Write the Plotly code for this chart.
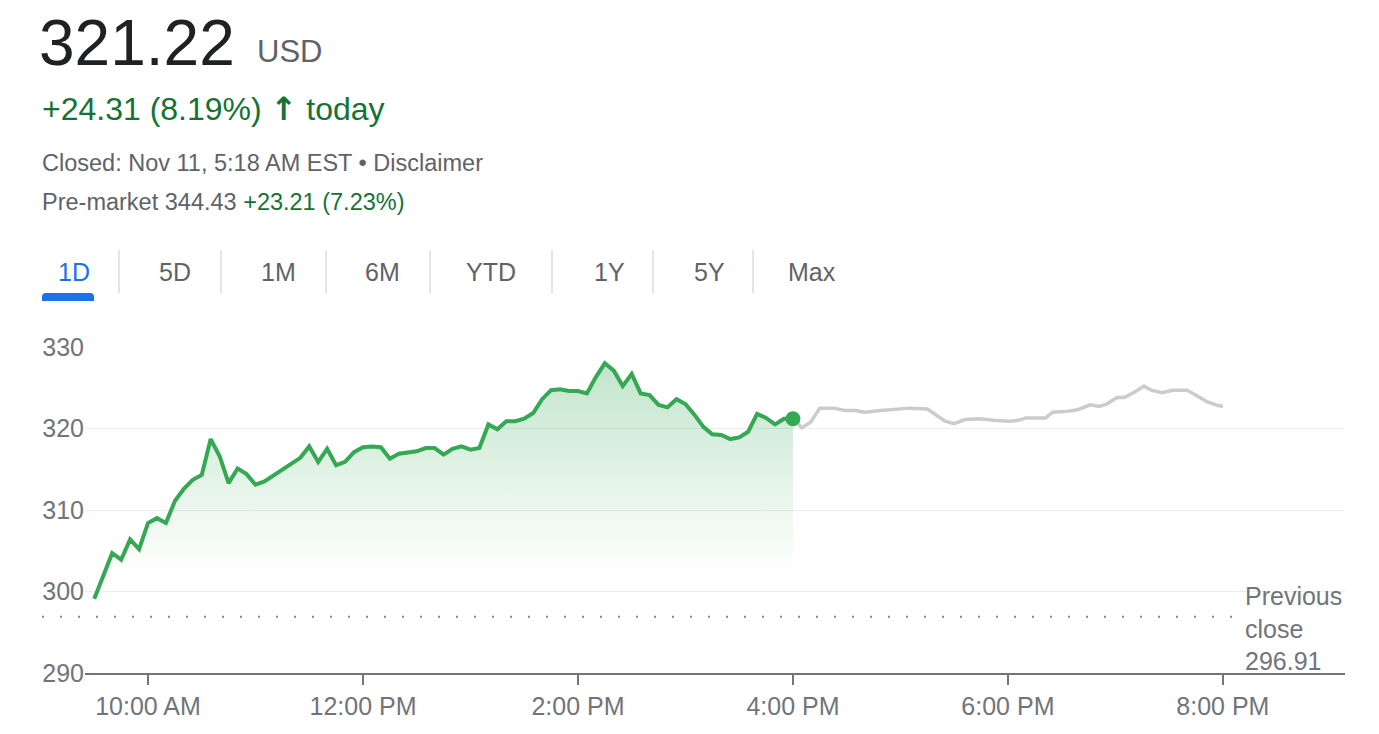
import plotly.graph_objects as go

# page body has an 8px margin, so the figure is a bit smaller and shifted
OFF = 8
W, H = 1379 - 2 * OFF, 734 - 2 * OFF

# regular session (green) and after hours (gray)
day = "2024-11-08"
session_times = ["09:30", "09:40", "09:45", "09:50", "09:55", "10:00", "10:05", "10:10", "10:15", "10:20",
                 "10:25", "10:30", "10:35", "10:40", "10:45", "10:50", "10:55", "11:00", "11:05", "11:10",
                 "11:15", "11:20", "11:25", "11:30", "11:35", "11:40", "11:45", "11:50", "11:55", "12:00",
                 "12:05", "12:10", "12:15", "12:20", "12:25", "12:30", "12:35", "12:40", "12:45", "12:50",
                 "12:55", "13:00", "13:05", "13:10", "13:15", "13:20", "13:25", "13:30", "13:35", "13:40",
                 "13:45", "13:50", "13:55", "14:00", "14:05", "14:10", "14:15", "14:20", "14:25", "14:30",
                 "14:35", "14:40", "14:45", "14:50", "14:55", "15:00", "15:05", "15:10", "15:15", "15:20",
                 "15:25", "15:30", "15:35", "15:40", "15:45", "15:50", "15:55", "16:00"]
session_prices = [299.1, 304.7, 303.9, 306.4, 305.2, 308.4, 309.0, 308.4, 311.1, 312.6,
                  313.7, 314.3, 318.7, 316.6, 313.3, 315.1, 314.4, 313.1, 313.5, 314.2,
                  315.0, 315.7, 316.4, 317.8, 315.9, 317.5, 315.5, 315.9, 317.1, 317.7,
                  317.8, 317.7, 316.3, 316.9, 317.0, 317.2, 317.6, 317.6, 316.8, 317.5,
                  317.8, 317.4, 317.6, 320.5, 319.9, 320.9, 320.9, 321.2, 321.9, 323.6,
                  324.7, 324.8, 324.6, 324.6, 324.3, 326.3, 328.0, 327.1, 325.2, 326.7,
                  324.3, 324.1, 322.9, 322.6, 323.6, 323.0, 321.7, 320.2, 319.3, 319.2,
                  318.7, 318.9, 319.6, 321.8, 321.3, 320.5, 321.2, 321.2]

after_times = ["16:00", "16:05", "16:10", "16:15", "16:23", "16:29", "16:35", "16:40", "16:49", "16:56",
               "17:05", "17:15", "17:19", "17:25", "17:30", "17:36", "17:44", "17:52", "18:01", "18:06",
               "18:10", "18:21", "18:25", "18:33", "18:39", "18:46", "18:51", "18:55", "19:01", "19:05",
               "19:11", "19:16", "19:20", "19:26", "19:32", "19:40", "19:44", "19:51", "19:56", "20:00"]
after_prices = [321.2, 320.1, 320.8, 322.5, 322.5, 322.2, 322.2, 322.0, 322.2, 322.3,
                322.5, 322.4, 321.8, 320.9, 320.6, 321.1, 321.2, 321.0, 320.9, 321.0,
                321.3, 321.3, 322.0, 322.1, 322.3, 322.9, 322.7, 323.0, 323.8, 323.8,
                324.5, 325.2, 324.7, 324.4, 324.7, 324.7, 324.2, 323.3, 322.9, 322.7]

previous_close = 296.91
last_price = 321.22

y_ticks = [290, 300, 310, 320, 330]
x_tick_times = ["10:00", "12:00", "14:00", "16:00", "18:00", "20:00"]
x_tick_labels = ["10:00 AM", "12:00 PM", "2:00 PM", "4:00 PM", "6:00 PM", "8:00 PM"]

tabs = ["1D", "5D", "1M", "6M", "YTD", "1Y", "5Y", "Max"]
tab_centers = [74, 175, 278, 382, 491, 609, 709, 812]
tab_separators = [119, 221, 326, 430, 552, 653, 753]

GREEN = "#34a853"
TEXT_GREEN = "#137333"
GRAY_TEXT = "#5f6368"
AXIS_TEXT = "#70757a"
FONT = "Arial, Liberation Sans, sans-serif"


# screen pixel -> paper fraction
def px(x):
    return (x - OFF) / W


def py(y):
    return 1 - (y - OFF) / H


def label(x, y, text, size, color, xanchor="left", yanchor="middle", **kw):
    return dict(x=px(x), y=py(y), xref="paper", yref="paper", xanchor=xanchor, yanchor=yanchor,
                showarrow=False, text=text, font=dict(size=size, color=color, family=FONT), **kw)


fig = go.Figure()

fig.add_trace(go.Scatter(
    x=[f"{day} {t}" for t in session_times],
    y=session_prices,
    mode="lines",
    line=dict(color=GREEN, width=4),
    fill="tozeroy",
    fillgradient=dict(type="vertical", start=302, stop=328,
                      colorscale=[[0, "rgba(52,168,83,0)"], [1, "rgba(52,168,83,0.3)"]]),
    hoverinfo="skip",
))

fig.add_trace(go.Scatter(
    x=[f"{day} {t}" for t in after_times],
    y=after_prices,
    mode="lines",
    line=dict(color="#cbcbcb", width=3.5),
    hoverinfo="skip",
))

fig.add_trace(go.Scatter(
    x=[f"{day} {session_times[-1]}"],
    y=[session_prices[-1]],
    mode="markers",
    marker=dict(color=GREEN, size=15),
    hoverinfo="skip",
))

shapes = [
    dict(type="line", xref="paper", yref="y", x0=px(42), x1=px(1236),
         y0=previous_close, y1=previous_close,
         line=dict(color="#80868b", width=2, dash="2px,16px")),
    dict(type="path", xref="paper", yref="paper",
         path=(f"M {px(42)},{py(301)} L {px(42)},{py(297)} Q {px(42)},{py(293)} {px(46)},{py(293)} "
               f"L {px(90)},{py(293)} Q {px(94)},{py(293)} {px(94)},{py(297)} L {px(94)},{py(301)} Z"),
         fillcolor="#1a73e8", line=dict(width=0)),
]
for sx in tab_separators:
    shapes.append(dict(type="line", xref="paper", yref="paper", x0=px(sx), x1=px(sx),
                       y0=py(250), y1=py(293), line=dict(color="#dadce0", width=1.5)))

annotations = [
    label(38, 43, f"{last_price:.2f}", 64, "#202124", borderpad=0),
    label(255, 52, "USD", 31, GRAY_TEXT),
    label(40, 109, "+24.31 (8.19%) <span style='font-family:DejaVu Sans;font-weight:bold'>↑</span> today",
          32, TEXT_GREEN),
    label(40, 163, "Closed: Nov 11, 5:18 AM EST • Disclaimer", 23.5, GRAY_TEXT),
    label(40, 202, f"Pre-market 344.43 <span style='color:{TEXT_GREEN}'>+23.21 (7.23%)</span>",
          23.5, GRAY_TEXT),
    label(1243, 580, f"Previous<br>close<br>{previous_close:.2f}", 25, AXIS_TEXT,
          yanchor="top", align="left"),
]
for tab, cx in zip(tabs, tab_centers):
    annotations.append(label(cx, 272, tab, 25, "#1a73e8" if tab == "1D" else GRAY_TEXT,
                             xanchor="center"))

fig.update_layout(
    width=W, height=H,
    margin=dict(l=0, r=0, t=0, b=0),
    paper_bgcolor="white",
    plot_bgcolor="white",
    showlegend=False,
    font=dict(family=FONT, color=AXIS_TEXT),
    shapes=shapes,
    annotations=annotations,
    xaxis=dict(
        domain=[px(85), px(1345)],
        range=[f"{day} 09:24:50", f"{day} 21:08:10"],
        tickvals=[f"{day} {t}" for t in x_tick_times],
        ticktext=x_tick_labels,
        tickfont=dict(size=25, color=AXIS_TEXT),
        showgrid=False, zeroline=False,
        showline=True, linecolor="#757575", linewidth=2,
        ticks="outside", ticklen=10, tickwidth=2, tickcolor="#757575",
        automargin=False,
    ),
    yaxis=dict(
        domain=[py(673), py(347)],
        range=[290, 330],
        tickvals=y_ticks,
        tickfont=dict(size=25, color=AXIS_TEXT),
        showgrid=True, gridcolor="#ededed", gridwidth=1,
        zeroline=False, showline=False, ticks="",
        automargin=False,
    ),
)

fig.write_html("out.html")
